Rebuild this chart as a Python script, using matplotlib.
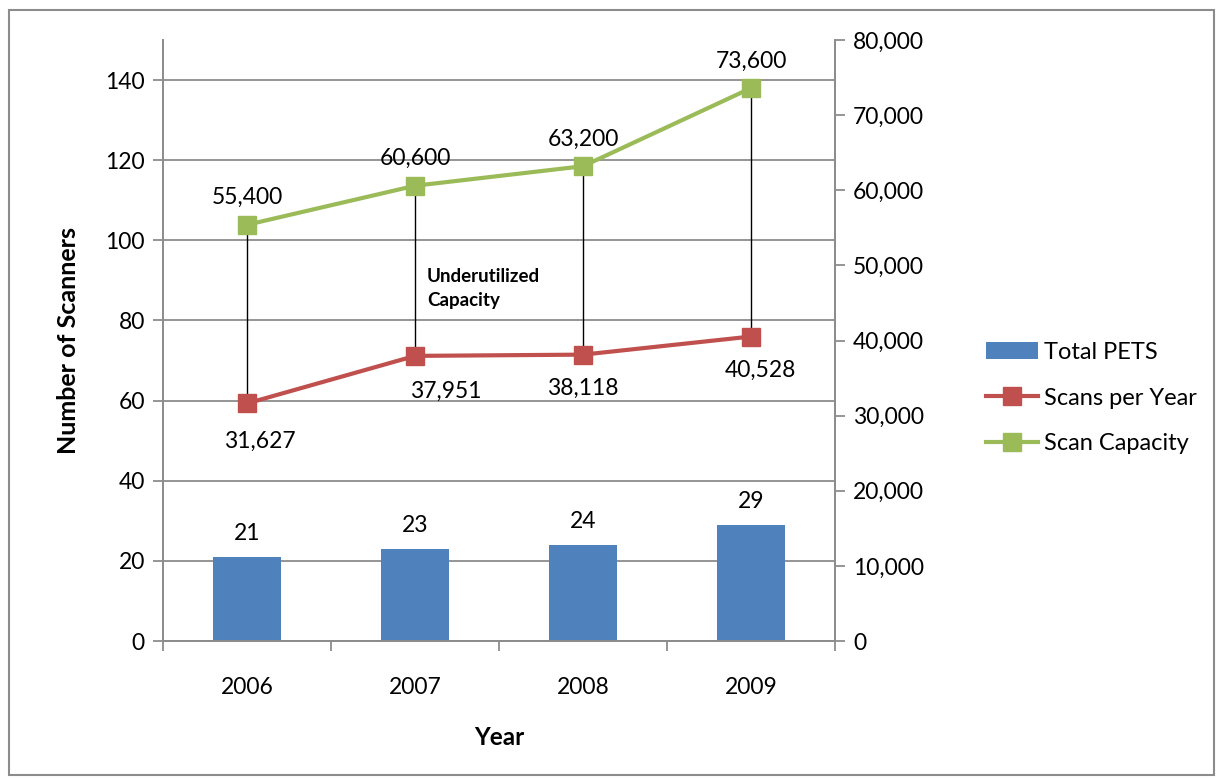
import matplotlib
matplotlib.use("Agg")
import matplotlib.pyplot as plt
import numpy as np
from matplotlib.patches import Rectangle
from matplotlib.ticker import FuncFormatter, FixedLocator

years = ["2006", "2007", "2008", "2009"]
total_pets = [21, 23, 24, 29]
scans_per_year = [31627, 37951, 38118, 40528]
scan_capacity = [55400, 60600, 63200, 73600]

plt.rcParams['font.family'] = ['Lato', 'DejaVu Sans']
GRAY = '#8c8c8c'
BLUE = '#4F81BD'
RED = '#C0504D'
GREEN = '#9BBB59'
FS = 16.5

fig = plt.figure(figsize=(12.19, 7.79), dpi=100)
fig.patches.append(Rectangle((9/1219, 1-775/779), (1214-9)/1219, (775-10)/779,
                             transform=fig.transFigure, fill=False, edgecolor=GRAY, lw=1.5))

ax = fig.add_axes([163/1219, 1-641/779, (835-163)/1219, (641-40)/779])
ax2 = ax.twinx()

x = np.arange(len(years))
ax.bar(x, total_pets, width=0.4, color=BLUE, zorder=2, label='Total PETS')
ax.set_xlim(-0.5, len(years) - 0.5)
ax.set_ylim(0, 150)
ax.set_yticks(np.arange(0, 141, 20))
ax.yaxis.grid(True, color=GRAY, lw=1.3)
ax.set_axisbelow(True)
ax.set_xticks(x)
ax.set_xticklabels(years, fontsize=FS)
ax.xaxis.set_minor_locator(FixedLocator(np.arange(-0.5, len(years), 1.0)))
ax.tick_params(axis='x', which='major', length=0, pad=26)
ax.tick_params(axis='x', which='minor', length=7, color=GRAY, width=1.3, direction='out')
ax.tick_params(axis='y', length=7, color=GRAY, width=1.3, labelsize=FS, pad=6)
ax.spines['top'].set_visible(False)
for s in ['left', 'bottom', 'right']:
    ax.spines[s].set_color(GRAY)
    ax.spines[s].set_linewidth(1.3)
ax.set_ylabel('Number of Scanners', fontsize=18, fontweight='bold', labelpad=18)
ax.set_xlabel('Year', fontsize=17.5, fontweight='bold', labelpad=20)

for xi, v in zip(x, total_pets):
    ax.annotate(f"{v}", (xi, v), xytext=(0, 9), textcoords='offset points',
                ha='center', va='bottom', fontsize=FS)

# secondary axis
ax2.set_ylim(0, 80000)
ax2.set_yticks(np.arange(0, 80001, 10000))
ax2.yaxis.set_major_formatter(FuncFormatter(lambda v, p: f"{int(v):,}"))
ax2.tick_params(axis='y', length=7, color=GRAY, width=1.3, labelsize=FS, pad=6)
ax2.spines['top'].set_visible(False)
for s in ['left', 'bottom', 'right']:
    ax2.spines[s].set_color(GRAY)
    ax2.spines[s].set_linewidth(1.3)

ax2.vlines(x, scans_per_year, scan_capacity, color='black', lw=1, zorder=3)
ax2.plot(x, scans_per_year, color=RED, lw=3, marker='s', markersize=13, zorder=4,
         label='Scans per Year')
ax2.plot(x, scan_capacity, color=GREEN, lw=3, marker='s', markersize=13, zorder=4,
         label='Scan Capacity')

scan_offsets = [(9, -20), (22, -18), (0, -17), (7, -17)]
for xi, v, off in zip(x, scans_per_year, scan_offsets):
    ax2.annotate(f"{v:,}", (xi, v), xytext=off, textcoords='offset points',
                 ha='center', va='top', fontsize=FS)
for xi, v in zip(x, scan_capacity):
    ax2.annotate(f"{v:,}", (xi, v), xytext=(0, 12), textcoords='offset points',
                 ha='center', va='bottom', fontsize=FS)

ax.text(1.07, 93, 'Underutilized\nCapacity', fontsize=13.5, fontweight='bold',
        ha='left', va='top', linespacing=1.5)

h1, l1 = ax.get_legend_handles_labels()
h2, l2 = ax2.get_legend_handles_labels()
fig.legend(h1 + h2, l1 + l2, loc='center left', bbox_to_anchor=(965/1219, 1-398/779),
           frameon=False, fontsize=17, handlelength=2.2, labelspacing=1.05,
           handletextpad=0.25)

fig.savefig('out.png', dpi=100)
